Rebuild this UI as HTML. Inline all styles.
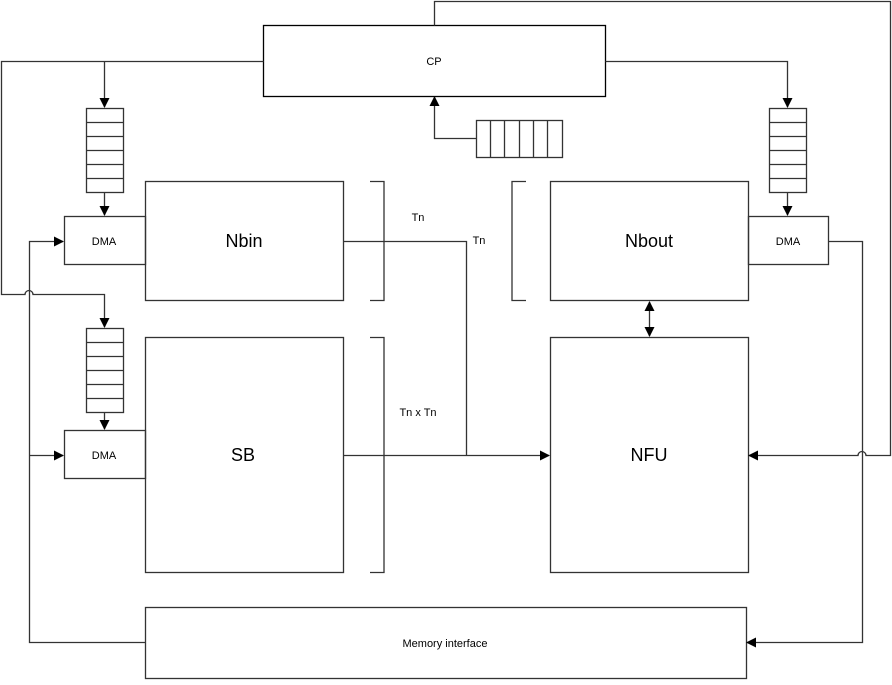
<!DOCTYPE html>
<html><head><meta charset="utf-8"><style>
html,body{margin:0;padding:0;background:#fff}
svg text{font-family:"Liberation Sans",sans-serif;fill:#000}
</style></head><body>
<svg width="892" height="680" viewBox="0 0 892 680" xmlns="http://www.w3.org/2000/svg">
<defs>
<marker id="a" markerWidth="10" markerHeight="10" refX="9" refY="5" orient="auto" markerUnits="userSpaceOnUse">
<path d="M0,0 L10,5 L0,10 z" fill="#000"/></marker>
<marker id="s" markerWidth="10" markerHeight="10" refX="1" refY="5" orient="auto" markerUnits="userSpaceOnUse">
<path d="M10,0 L0,5 L10,10 z" fill="#000"/></marker>
</defs>
<g fill="none" stroke="#333" stroke-width="1.3">
<!-- boxes -->
<rect x="263.5" y="25.5" width="342" height="71" stroke="#000"/>
<rect x="145.5" y="181.5" width="198" height="119"/>
<rect x="64.5" y="216.5" width="81" height="48"/>
<rect x="145.5" y="337.5" width="198" height="235"/>
<rect x="64.5" y="430.5" width="81" height="48"/>
<rect x="550.5" y="181.5" width="198" height="119"/>
<rect x="748.5" y="216.5" width="80" height="48"/>
<rect x="550.5" y="337.5" width="198" height="235"/>
<rect x="145.5" y="607.5" width="601" height="71"/>
<!-- queues -->
<rect x="86.5" y="108.5" width="37" height="84"/>
<path d="M86.5 122.5h37M86.5 136.5h37M86.5 150.5h37M86.5 164.5h37M86.5 178.5h37"/>
<rect x="86.5" y="328.5" width="37" height="84"/>
<path d="M86.5 342.5h37M86.5 356.5h37M86.5 370.5h37M86.5 384.5h37M86.5 398.5h37"/>
<rect x="769.5" y="108.5" width="37" height="84"/>
<path d="M769.5 122.5h37M769.5 136.5h37M769.5 150.5h37M769.5 164.5h37M769.5 178.5h37"/>
<rect x="476.5" y="120.5" width="86" height="37"/>
<path d="M490.5 120.5v37M504.5 120.5v37M519.5 120.5v37M533.5 120.5v37M547.5 120.5v37"/>
<!-- brackets -->
<path d="M370 181.5h14v119h-14M370 337.5h14v235h-14M526 181.5h-14v119h14"/>
<!-- connectors -->
<path d="M263.5 61.5H1.5V294.5H25a4 4 0 0 1 8 0H104.5V327" marker-end="url(#a)"/>
<path d="M104.5 61.5V107" marker-end="url(#a)"/>
<path d="M104.5 192.5V215" marker-end="url(#a)"/>
<path d="M104.5 412.5V429" marker-end="url(#a)"/>
<path d="M605.5 61.5H787.5V107" marker-end="url(#a)"/>
<path d="M787.5 192.5V215" marker-end="url(#a)"/>
<path d="M476.5 138.5H434.5V97" marker-end="url(#a)"/>
<path d="M434.5 25.5V1.5H890.5V455.5H866a4 4 0 0 0 -8 0H749" marker-end="url(#a)"/>
<path d="M828.5 241.5H862.5V642.5H747" marker-end="url(#a)"/>
<path d="M145.5 642.5H29.5V241.5H63" marker-end="url(#a)"/>
<path d="M29.5 455.5H63" marker-end="url(#a)"/>
<path d="M343.5 241.5H466.5V455.5"/>
<path d="M343.5 455.5H549" marker-end="url(#a)"/>
<path d="M649.5 302V336" marker-end="url(#a)" marker-start="url(#s)"/>
</g>
<g font-size="11" text-anchor="middle">
<text x="434" y="65">CP</text>
<text x="104" y="245">DMA</text>
<text x="104" y="459">DMA</text>
<text x="788" y="245">DMA</text>
<text x="445" y="647">Memory interface</text>
<text x="418" y="221">Tn</text>
<text x="479" y="244">Tn</text>
<text x="418" y="416">Tn x Tn</text>
</g>
<g font-size="18" text-anchor="middle">
<text x="244" y="247">Nbin</text>
<text x="649" y="247">Nbout</text>
<text x="243" y="461">SB</text>
<text x="649" y="461">NFU</text>
</g>
</svg>
</body></html>
